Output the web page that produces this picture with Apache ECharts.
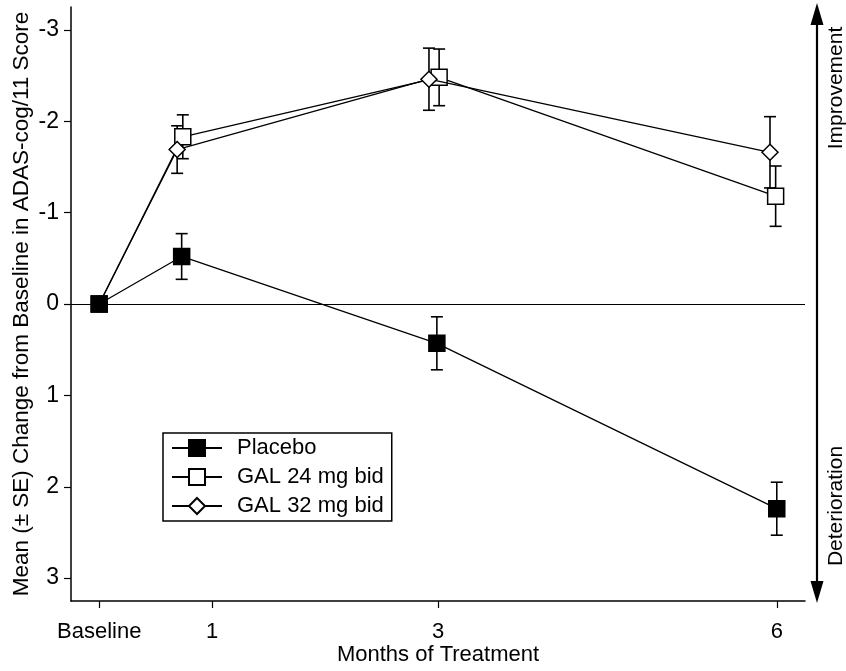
<!DOCTYPE html>
<html>
<head>
<meta charset="utf-8">
<script src="https://cdn.jsdelivr.net/npm/echarts@6/dist/echarts.min.js"></script>
<style>
html,body{margin:0;padding:0;background:#fff;}
#main{width:846px;height:671px;}
</style>
</head>
<body>
<div id="main"></div>
<script>
// months at which each group was measured (points slightly offset in the figure)
var placeboX = [0, 0.73, 2.99, 6.0];
var gal24X = [0, 0.74, 3.01, 5.99];
var gal32X = [0, 0.69, 2.92, 5.94];

// mean change from baseline in ADAS-cog/11 (negative = improvement)
var placeboMean = [0, -0.52, 0.43, 2.24];
var gal24Mean = [0, -1.83, -2.48, -1.18];
var gal32Mean = [0, -1.69, -2.46, -1.66];

// standard errors
var placeboSE = [0, 0.25, 0.29, 0.29];
var gal24SE = [0, 0.24, 0.31, 0.33];
var gal32SE = [0, 0.26, 0.34, 0.39];

var xTicks = [0, 1, 3, 6];
var xTickNames = {0: 'Baseline', 1: '1', 3: '3', 6: '6'};
var yTicks = [-3, -2, -1, 0, 1, 2, 3];

var seriesNames = ['Placebo', 'GAL 24 mg bid', 'GAL 32 mg bid'];

var font = 'Liberation Sans, Arial, Helvetica, sans-serif';

var points = function (xs, ys) {
    var res = [];
    for (var i = 0; i < xs.length; i++) {
        res.push([xs[i], ys[i]]);
    }
    return res;
};
var bars = function (xs, ys, se) {
    var res = [];
    for (var i = 0; i < xs.length; i++) {
        if (se[i] > 0) {
            res.push([xs[i], ys[i] - se[i], ys[i] + se[i]]);
        }
    }
    return res;
};

var renderBar = function (params, api) {
    var x = api.value(0);
    var lo = api.coord([x, api.value(1)]);
    var hi = api.coord([x, api.value(2)]);
    var w = 6;
    var st = {stroke: '#000', lineWidth: 1.6};
    return {
        type: 'group',
        children: [
            {type: 'line', shape: {x1: lo[0], y1: lo[1], x2: hi[0], y2: hi[1]}, style: st},
            {type: 'line', shape: {x1: lo[0] - w, y1: lo[1], x2: lo[0] + w, y2: lo[1]}, style: st},
            {type: 'line', shape: {x1: hi[0] - w, y1: hi[1], x2: hi[0] + w, y2: hi[1]}, style: st}
        ]
    };
};

var errSeries = function (name, data) {
    return {
        name: name + ' SE',
        type: 'custom',
        renderItem: renderBar,
        data: data,
        encode: {x: 0, y: [1, 2]},
        z: 1,
        silent: true
    };
};

var lineSeries = function (name, data, symbol, fill, z, extra) {
    var s = {
        name: name,
        type: 'line',
        data: data,
        symbol: symbol,
        symbolSize: 16,
        showAllSymbol: true,
        lineStyle: {color: '#000', width: 1.3},
        itemStyle: {color: fill, borderColor: '#000', borderWidth: 1.5},
        emphasis: {disabled: true},
        z: z
    };
    for (var k in extra) s[k] = extra[k];
    return s;
};

var option = {
    backgroundColor: '#fff',
    animation: false,
    grid: {left: 71, right: 41, top: 7, bottom: 70, outerBoundsMode: 'none', containLabel: false},
    legend: {
        orient: 'vertical',
        left: 163,
        top: 433,
        data: seriesNames,
        itemWidth: 50,
        itemHeight: 20,
        itemGap: 7,
        padding: [4, 8, 4, 8],
        borderColor: '#000',
        borderWidth: 1.5,
        textStyle: {fontFamily: font, fontSize: 22, color: '#000', padding: [0, 0, 0, 10]}
    },
    xAxis: {
        type: 'value',
        min: -0.25,
        max: 6.25,
        name: 'Months of Treatment',
        nameLocation: 'middle',
        nameGap: 43,
        nameMoveOverlap: false,
        nameTextStyle: {fontFamily: font, fontSize: 22, color: '#000'},
        splitLine: {show: false},
        axisLine: {onZero: false, lineStyle: {color: '#000', width: 1.5}},
        axisTick: {show: true, length: 7, lineStyle: {color: '#000', width: 1.2}, customValues: xTicks},
        axisLabel: {
            fontFamily: font, fontSize: 22, color: '#000', margin: 20,
            customValues: xTicks,
            formatter: function (v) { return xTickNames[v]; }
        }
    },
    yAxis: {
        type: 'value',
        inverse: true,
        min: -3.25,
        max: 3.25,
        name: 'Mean (\u00b1 SE) Change from Baseline in ADAS-cog/11 Score',
        nameLocation: 'middle',
        nameGap: 38,
        nameMoveOverlap: false,
        nameRotate: 90,
        nameTextStyle: {fontFamily: font, fontSize: 22.5, color: '#000'},
        splitLine: {show: false},
        axisLine: {show: true, onZero: false, lineStyle: {color: '#000', width: 1.5}},
        axisTick: {show: true, length: 7, lineStyle: {color: '#000', width: 1.2}, customValues: yTicks},
        axisLabel: {fontFamily: font, fontSize: 23, color: '#000', margin: 12, customValues: yTicks}
    },
    series: [
        errSeries('Placebo', bars(placeboX, placeboMean, placeboSE)),
        errSeries('GAL 24 mg bid', bars(gal24X, gal24Mean, gal24SE)),
        errSeries('GAL 32 mg bid', bars(gal32X, gal32Mean, gal32SE)),
        lineSeries('GAL 24 mg bid', points(gal24X, gal24Mean), 'rect', '#fff', 3, {}),
        lineSeries('GAL 32 mg bid', points(gal32X, gal32Mean), 'diamond', '#fff', 4, {}),
        lineSeries('Placebo', points(placeboX, placeboMean), 'rect', '#000', 5, {
            markLine: {
                silent: true,
                symbol: 'none',
                label: {show: false},
                lineStyle: {color: '#000', type: 'solid', width: 1.2},
                data: [{yAxis: 0}]
            }
        })
    ],
    graphic: [
        {type: 'line', shape: {x1: 817, y1: 18, x2: 817, y2: 590}, style: {stroke: '#000', lineWidth: 2.2}},
        {type: 'polygon', shape: {points: [[817, 3], [810.5, 25], [823.5, 25]]}, style: {fill: '#000'}},
        {type: 'polygon', shape: {points: [[817, 603], [810.5, 581], [823.5, 581]]}, style: {fill: '#000'}},
        {type: 'text', x: 836, y: 88, rotation: Math.PI / 2,
            style: {text: 'Improvement', fontFamily: font, fontSize: 21, fill: '#000', align: 'center', verticalAlign: 'middle'}},
        {type: 'text', x: 836, y: 506, rotation: Math.PI / 2,
            style: {text: 'Deterioration', fontFamily: font, fontSize: 21, fill: '#000', align: 'center', verticalAlign: 'middle'}}
    ]
};

var chart = echarts.init(document.getElementById('main'));
chart.setOption(option);
</script>
</body>
</html>
